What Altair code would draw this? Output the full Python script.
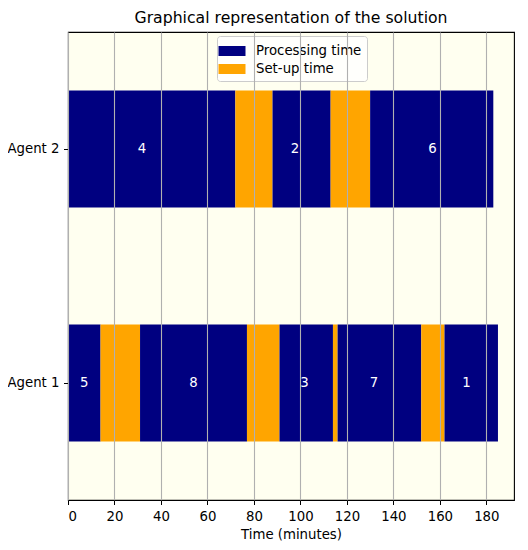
import altair as alt
import pandas as pd

# segments (minutes)
seg_agent = ["Agent 1"] * 9 + ["Agent 2"] * 5
seg_start = [0, 14, 31, 77, 91, 114, 116, 152, 162, 0, 72, 88, 113, 130]
seg_end = [14, 31, 77, 91, 114, 116, 152, 162, 185, 72, 88, 113, 130, 183]
seg_kind = ["Processing time", "Set-up time"] * 4 + ["Processing time"] + \
           ["Processing time", "Set-up time", "Processing time", "Set-up time", "Processing time"]

# job numbers written inside the bars
job_agent = ["Agent 1"] * 5 + ["Agent 2"] * 3
job_label = ["5", "8", "3", "7", "1", "4", "2", "6"]
job_x = [7, 54, 101.7, 131.7, 171.5, 31.8, 97.7, 156.8]

kinds = ["Processing time", "Set-up time"]
kind_colors = ["#000080", "#FFA500"]
agents_order = ["Agent 2", "Agent 1"]

segs = pd.DataFrame({"agent": seg_agent, "start": seg_start, "end": seg_end, "kind": seg_kind})
jobs = pd.DataFrame({"agent": job_agent, "job": job_label, "x": job_x})

FONT = "DejaVu Sans"

y_enc = alt.Y("agent:N", sort=agents_order, title=None,
              scale=alt.Scale(paddingInner=0.5, paddingOuter=0.25),
              axis=alt.Axis(labelFontSize=13.3, labelColor="black", labelFont=FONT,
                            tickSize=4.5, tickColor="black", labelPadding=4.5,
                            domain=False, grid=False))

bars = alt.Chart(segs).mark_bar().encode(
    x=alt.X("start:Q", title="Time (minutes)",
            scale=alt.Scale(domain=[0, 191.9], nice=False, zero=False),
            axis=alt.Axis(values=list(range(0, 181, 20)), grid=True, gridColor="#b0b0b0",
                          gridWidth=1.1, domain=False, tickSize=4.5, tickColor="black",
                          labelPadding=4.5, labelFontSize=13.3, labelColor="black",
                          labelFont=FONT, titleFont=FONT, titleFontSize=13.3,
                          titleFontWeight="normal", titleColor="black", titlePadding=5,
                          zindex=1)),
    x2="end:Q",
    y=y_enc,
    color=alt.Color("kind:N", title=None,
                    scale=alt.Scale(domain=kinds, range=kind_colors),
                    legend=alt.Legend(orient="none", legendX=149, legendY=4,
                                      symbolType="M-1.35,-0.5H1.35V0.5H-1.35Z",
                                      symbolSize=400, symbolStrokeWidth=0,
                                      symbolOpacity=1,
                                      labelFontSize=13.3, labelFont=FONT, labelColor="black",
                                      labelOffset=14, rowPadding=1,
                                      fillColor="rgba(255,255,255,0.8)",
                                      strokeColor="#cccccc", cornerRadius=3,
                                      padding=5)),
)

labels = alt.Chart(jobs).mark_text(color="white", fontSize=13.3, font=FONT).encode(
    x="x:Q",
    y=alt.Y("agent:N", sort=agents_order),
    text="job:N",
)

chart = (bars + labels).properties(
    width=446,
    height=468,
    title=alt.TitleParams("Graphical representation of the solution", fontSize=15.7,
                          fontWeight="normal", font=FONT, color="black", offset=5),
    autosize=alt.AutoSizeParams(type="none"),
    padding={"left": 60, "top": 24, "right": 2, "bottom": 41},
).configure_view(
    fill="#FFFFF0", stroke="black", strokeWidth=1.1
)

chart.save("out.html", embed_options={"renderer": "svg", "actions": False})
